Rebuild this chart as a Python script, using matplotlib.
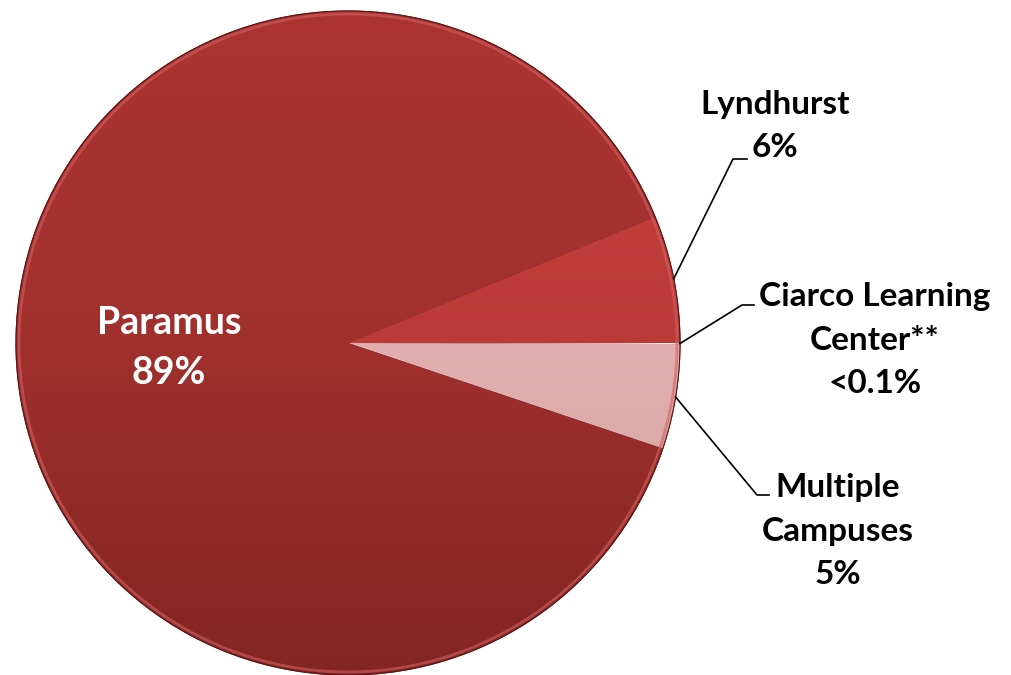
import numpy as np
import matplotlib.pyplot as plt
from matplotlib.colors import LinearSegmentedColormap

# campus shares (slice order: clockwise from 3 o'clock)
campuses = ["Ciarco Learning\nCenter**", "Multiple\nCampuses", "Paramus", "Lyndhurst"]
shares = [0.05, 5.1, 88.65, 6.2]
pct_text = ["<0.1%", "5%", "89%", "6%"]

# gradient colours per slice (top, middle, bottom)
grads = [("#ffffff", "#f8e8e8", "#f2dcdc"),
         ("#efc6c5", "#e2b0b0", "#d29c9c"),
         ("#ad3432", "#a0302e", "#822624"),
         ("#c8443f", "#ba3a37", "#a83130")]

plt.rcParams['font.family'] = ['Lato', 'DejaVu Sans']

fig = plt.figure(figsize=(10.12, 6.75), dpi=100)
ax = fig.add_axes([0, 0, 1, 1])

cx, cy, r = 348, -343, 332
wedges, _ = ax.pie(shares, startangle=0, counterclock=False,
                   center=(cx, cy), radius=r, frame=True,
                   colors=[g[1] for g in grads],
                   wedgeprops=dict(edgecolor="#5e1816", linewidth=0.8))
ax.set_xlim(0, 1012)
ax.set_ylim(-675, 0)
ax.set_aspect('equal')
ax.axis('off')

# fake the gradient fill of each slice
yy = np.linspace(0, 1, 256).reshape(-1, 1)
for w, cols in zip(wedges, grads):
    cmap = LinearSegmentedColormap.from_list("g", list(cols))
    im = ax.imshow(yy, cmap=cmap, aspect='auto',
                   extent=(cx - r, cx + r, cy - r, cy + r), origin='upper',
                   zorder=w.get_zorder() + 0.1)
    im.set_clip_path(w)

# light rim highlight
theta = np.linspace(0, 2 * np.pi, 400)
ax.plot(cx + (r - 3) * np.cos(theta), cy + (r - 3) * np.sin(theta),
        color="#d26060", lw=2, alpha=0.6, zorder=5)
ax.plot(cx + r * np.cos(theta), cy + r * np.sin(theta),
        color="#5e1816", lw=0.8, zorder=5)

# leader lines + labels (elbow, end, text centre)
layout = {
    "Lyndhurst": ((733, -159), (747, -159), (775, -126)),
    "Ciarco Learning\nCenter**": ((742, -305), (754, -305), (875, -340)),
    "Multiple\nCampuses": ((757, -495), (769, -495), (838, -531)),
}
for w, name, pct in zip(wedges, campuses, pct_text):
    if name == "Paramus":
        ax.text(169, -348, f"{name}\n{pct}", ha='center', va='center',
                fontsize=27, fontweight='bold', color='white',
                linespacing=1.55, zorder=6)
        continue
    mid = np.deg2rad((w.theta1 + w.theta2) / 2)
    sx, sy = cx + r * np.cos(mid), cy + r * np.sin(mid)
    elbow, end, tpos = layout[name]
    ax.plot([sx, elbow[0], end[0]], [sy, elbow[1], end[1]],
            color='black', lw=1.2, zorder=6)
    ax.text(tpos[0], tpos[1], f"{name}\n{pct}", ha='center', va='center',
            fontsize=24, fontweight='bold', color='black',
            linespacing=1.62, zorder=6)

plt.savefig("out.png", dpi=100)
